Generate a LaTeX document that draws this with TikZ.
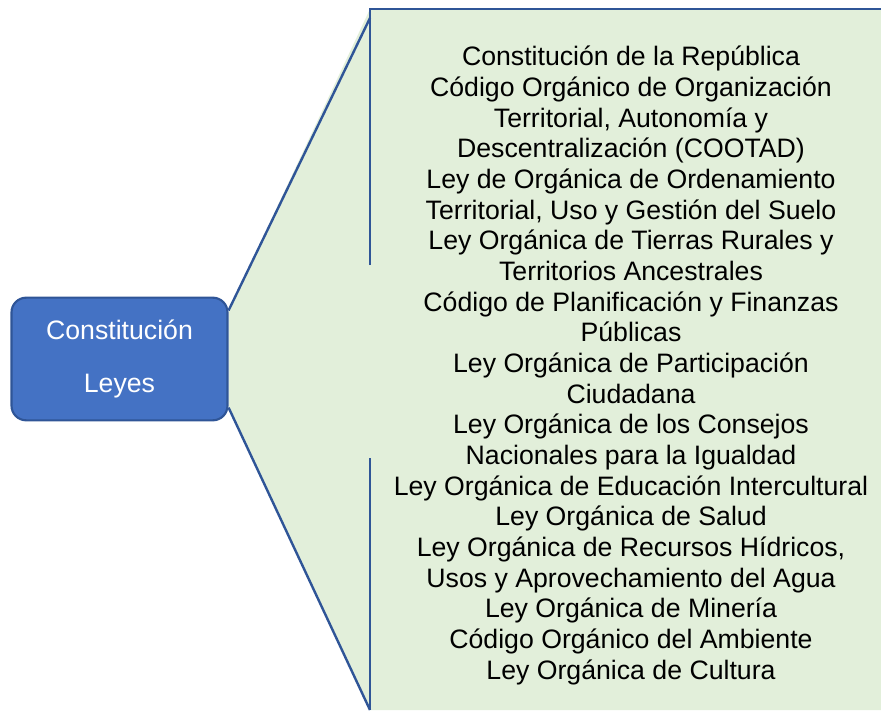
\documentclass[tikz,border=0pt]{standalone}
\usepackage{fontspec}
\setmainfont{Liberation Sans}
\usepackage{xcolor}
\usetikzlibrary{backgrounds}

\definecolor{hubblue}{HTML}{4472C4}
\definecolor{hubedge}{HTML}{2F5597}
\definecolor{panelgreen}{HTML}{E2EFDA}

\begin{document}
\begin{tikzpicture}[
  x=0.75pt, y=-0.75pt,
  hubbox/.style={draw=hubedge, line width=1.6pt, fill=hubblue, rounded corners=11pt,
                 minimum width=162pt, minimum height=92pt, align=center,
                 text=white, font=\fontsize{20}{40}\selectfont},
  lista/.style={align=center, inner sep=0pt, font=\fontsize{20}{23}\selectfont},
  edge/.style={draw=hubedge, line width=1.8pt}
]
\useasboundingbox (0,0) rectangle (881,710);

\node[hubbox] (hub) at (119.5,359) {Constitución\\Leyes};

\coordinate (pTL) at (370,9);
\coordinate (pTip) at (370,18);
\coordinate (pTR) at (881,9);
\coordinate (pBR) at (881,710);
\coordinate (pBL) at (370,710);
\coordinate (gapTop) at (370,265);
\coordinate (gapBot) at (370,458);

% bracket panel behind the hub
\begin{pgfonlayer}{background}
\fill[panelgreen] (hub.24) -- (pTL) -- (pTR) -- (pBR) -- (pBL) -- (hub.-24) -- cycle;
\end{pgfonlayer}

\node[lista] (lista) at (631,365.5)
  {Constitución de la República\\
   Código Orgánico de Organización\\
   Territorial, Autonomía y\\
   Descentralización (COOTAD)\\
   Ley de Orgánica de Ordenamiento\\
   Territorial, Uso y Gestión del Suelo\\
   Ley Orgánica de Tierras Rurales y\\
   Territorios Ancestrales\\
   Código de Planificación y Finanzas\\
   Públicas\\
   Ley Orgánica de Participación\\
   Ciudadana\\
   Ley Orgánica de los Consejos\\
   Nacionales para la Igualdad\\
   Ley Orgánica de Educación Intercultural\\
   Ley Orgánica de Salud\\
   Ley Orgánica de Recursos Hídricos,\\
   Usos y Aprovechamiento del Agua\\
   Ley Orgánica de Minería\\
   Código Orgánico del Ambiente\\
   Ley Orgánica de Cultura};

\draw[edge] (hub.24) -- (pTip);
\draw[edge] (hub.-24) -- (pBL);
\draw[edge] (gapTop) -- (pTL) -- (pTR);
\draw[edge] (gapBot) -- (pBL);
\end{tikzpicture}
\end{document}
